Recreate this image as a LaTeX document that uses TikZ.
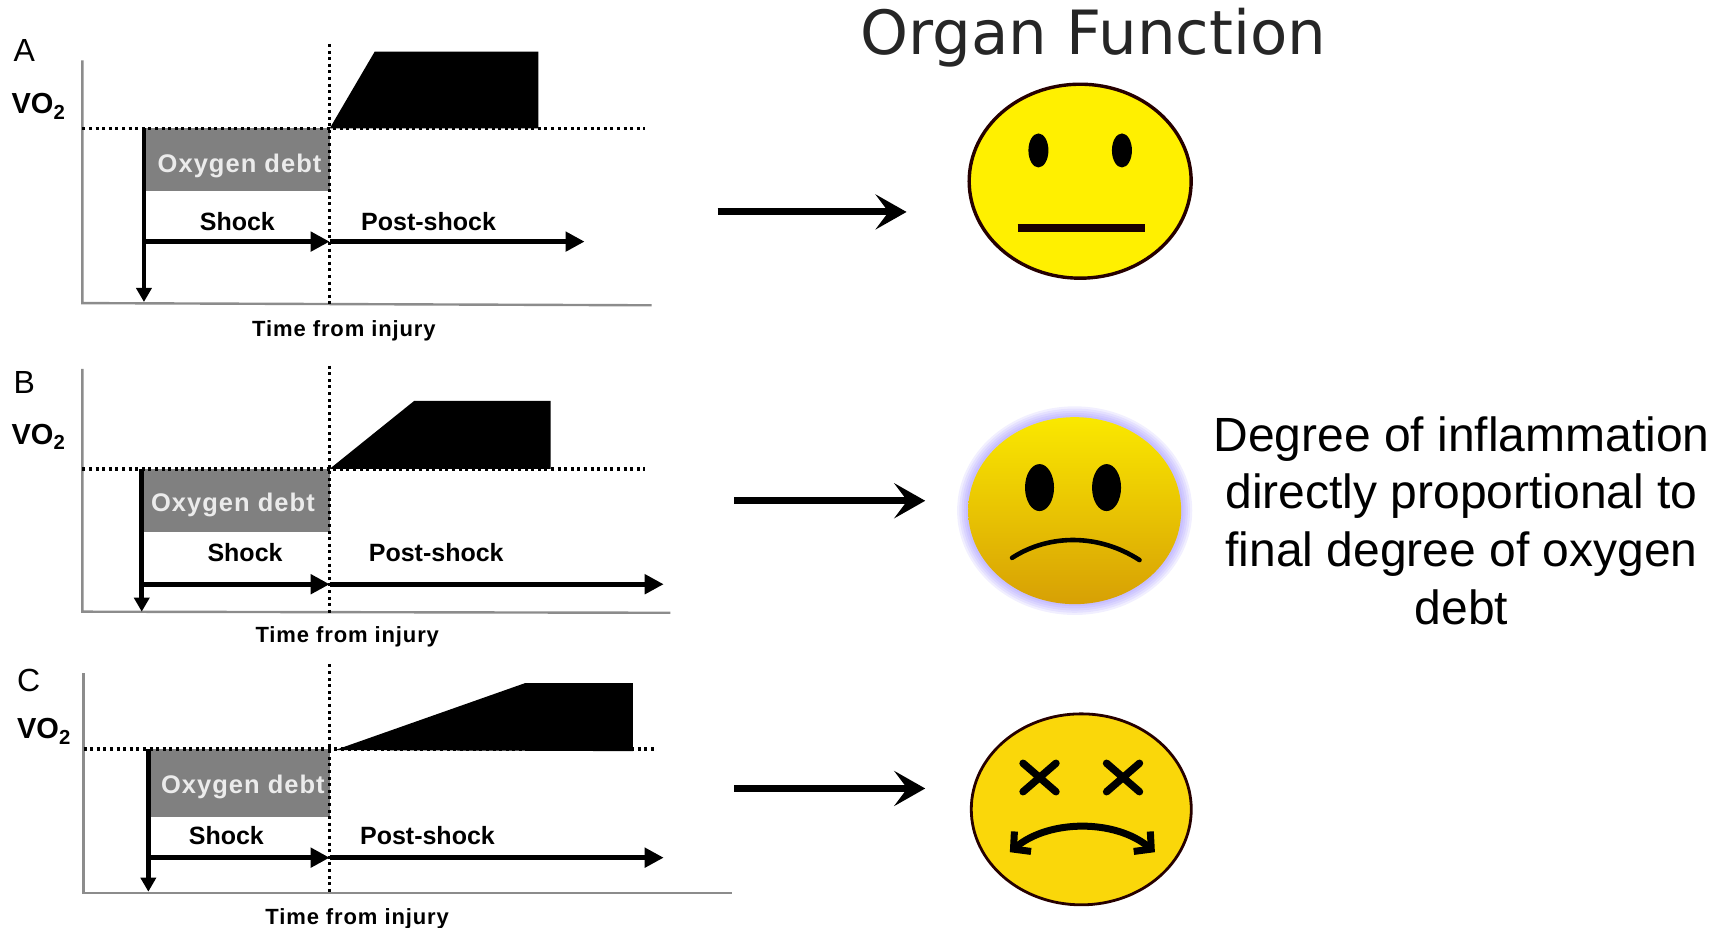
\documentclass[tikz,border=0pt]{standalone}
\usepackage{fontspec}
\setmainfont{Liberation Sans}
\newfontfamily\titlefont{DejaVu Sans}
\newfontfamily\widefont[LetterSpace=4]{Liberation Sans}
\usetikzlibrary{positioning,arrows.meta,calc,shapes.geometric}
\definecolor{DebtGray}{RGB}{128,128,128}
\definecolor{AxisGray}{RGB}{140,140,140}
\definecolor{FaceYellow}{RGB}{255,240,0}
\definecolor{CrossYellow}{RGB}{250,215,10}
\definecolor{GoldTop}{RGB}{250,232,0}
\definecolor{GoldMid}{RGB}{225,178,5}
\definecolor{GoldLow}{RGB}{215,160,5}
\definecolor{GlowBlue}{RGB}{120,100,255}

\begin{document}
\begin{tikzpicture}[x=1.0989pt, y=-1.0982pt,
    panelname/.style={font=\fontsize{32}{36}\selectfont},
    volabel/.style={font=\fontsize{29}{32}\selectfont\bfseries},
    debtlabel/.style={font=\widefont\fontsize{25.5}{28}\selectfont\bfseries, text=white!92!black},
    phaselabel/.style={font=\fontsize{25}{28}\selectfont\bfseries},
    timelabel/.style={font=\widefont\fontsize{22}{24}\selectfont\bfseries},
    axisline/.style={draw=AxisGray, line width=2.4pt},
    dotline/.style={line width=3.6pt, dash pattern=on 3pt off 3.6pt},
    phasearrow/.style={line width=5pt, -{Triangle[length=19pt,width=19pt]}},
    droparrow/.style={line width=4.6pt, -{Triangle[length=14pt,width=15pt]}},
    bigarrow/.style={line width=7pt, -{Stealth[length=31pt,width=35pt,inset=13pt]}},
    faceeye/.style={ellipse, fill=black, inner sep=0pt}]
  \useasboundingbox (0,0) rectangle (1568,845);

  % panel A
  \coordinate (a0) at (75,55);
  \coordinate (a1) at (75,276);
  \coordinate (a2) at (593,278);
  \draw[axisline] (a0) -- (a1) -- (a2);
  \fill[DebtGray] (131,117) rectangle (300,174);
  \fill (300,117) -- (341,47) -- (490,47) -- (490,117) -- cycle;
  \coordinate (abl) at (75,117);
  \coordinate (abr) at (587,117);
  \coordinate (at) at (300,40);
  \coordinate (ab) at (300,279);
  \draw[dotline] (abl) -- (abr);
  \draw[dotline] (at) -- (ab);
  \coordinate (adrop) at (131,117);
  \coordinate (adrope) at (131,275);
  \coordinate (ash) at (131,220);
  \coordinate (amid) at (300,220);
  \coordinate (aend) at (532,220);
  \draw[droparrow] (adrop) -- (adrope);
  \draw[phasearrow] (ash) -- (amid);
  \draw[phasearrow] (amid) -- (aend);
  \node[panelname] (apanel) at (22,46) {A};
  \node[volabel] (avo) at (35,97) {VO\textsubscript{2}};
  \node[debtlabel] (adebt) at (218,151) {Oxygen debt};
  \node[phaselabel] (ashock) at (216,202) {Shock};
  \node[phaselabel] (apost) at (390,202) {Post-shock};
  \node[timelabel] (atime) at (313,301) {Time from injury};

  % panel B
  \coordinate (b0) at (75,336);
  \coordinate (b1) at (75,557);
  \coordinate (b2) at (610,558);
  \draw[axisline] (b0) -- (b1) -- (b2);
  \fill[DebtGray] (129,427) rectangle (300,484);
  \fill (300,427) -- (377,365) -- (501,365) -- (501,427) -- cycle;
  \coordinate (bbl) at (75,427);
  \coordinate (bbr) at (587,427);
  \coordinate (bt) at (300,333);
  \coordinate (bb) at (300,558);
  \draw[dotline] (bbl) -- (bbr);
  \draw[dotline] (bt) -- (bb);
  \coordinate (bdrop) at (129,427);
  \coordinate (bdrope) at (129,557);
  \coordinate (bsh) at (129,532);
  \coordinate (bmid) at (300,532);
  \coordinate (bend) at (604,532);
  \draw[droparrow] (bdrop) -- (bdrope);
  \draw[phasearrow] (bsh) -- (bmid);
  \draw[phasearrow] (bmid) -- (bend);
  \node[panelname] (bpanel) at (22,348) {B};
  \node[volabel] (bvo) at (35,398) {VO\textsubscript{2}};
  \node[debtlabel] (bdebt) at (212,460) {Oxygen debt};
  \node[phaselabel] (bshock) at (223,503) {Shock};
  \node[phaselabel] (bpost) at (397,503) {Post-shock};
  \node[timelabel] (btime) at (316,580) {Time from injury};

  % panel C
  \coordinate (c0) at (76,613);
  \coordinate (c1) at (76,813);
  \coordinate (c2) at (666,813);
  \draw[axisline] (c0) -- (c1) -- (c2);
  \fill[DebtGray] (135,682) rectangle (300,744);
  \fill (305,683) -- (478,622) -- (576,622) -- (576,684) -- cycle;
  \coordinate (cbl) at (76,682);
  \coordinate (cbr) at (595,682);
  \coordinate (ct) at (300,605);
  \coordinate (cb) at (300,815);
  \draw[dotline] (cbl) -- (cbr);
  \draw[dotline] (ct) -- (cb);
  \coordinate (cdrop) at (135,682);
  \coordinate (cdrope) at (135,812);
  \coordinate (csh) at (135,781);
  \coordinate (cmid) at (300,781);
  \coordinate (cend) at (604,781);
  \draw[droparrow] (cdrop) -- (cdrope);
  \draw[phasearrow] (csh) -- (cmid);
  \draw[phasearrow] (cmid) -- (cend);
  \node[panelname] (cpanel) at (26,620) {C};
  \node[volabel] (cvo) at (40,666) {VO\textsubscript{2}};
  \node[debtlabel] (cdebt) at (221,717) {Oxygen debt};
  \node[phaselabel] (cshock) at (206,761) {Shock};
  \node[phaselabel] (cpost) at (389,761) {Post-shock};
  \node[timelabel] (ctime) at (325,837) {Time from injury};

  % faces
  \node[ellipse, draw=black!85!red, line width=3.4pt, fill=FaceYellow, minimum width=222pt,
        minimum height=194pt, inner sep=0pt] (facea) at (983,165) {};
  \node[faceeye, minimum width=20pt, minimum height=34pt] (faeyel) at (945,137) {};
  \node[faceeye, minimum width=20pt, minimum height=34pt] (faeyer) at (1021,137) {};
  \coordinate (fam0) at (926,208);
  \coordinate (fam1) at (1042,208);
  \draw[line width=8pt, black!90!red] (fam0) -- (fam1);

  \foreach \glow in {10,8,...,2}
    \fill[GlowBlue, opacity=0.1] (978,465) ellipse ({97+\glow} and {85+\glow});
  \node[ellipse, top color=GoldTop, middle color=GoldMid, bottom color=GoldLow,
        minimum width=213pt, minimum height=187pt, inner sep=0pt] (faceb) at (978,465) {};
  \node[faceeye, minimum width=29pt, minimum height=47pt] (fbeyel) at (946,444) {};
  \node[faceeye, minimum width=29pt, minimum height=47pt] (fbeyer) at (1007,444) {};
  \coordinate (fbm0) at (921,508);
  \coordinate (fbm1) at (1037,510);
  \draw[line width=4.6pt, line cap=round] (fbm0) .. controls (955,486) and (1000,486) .. (fbm1);

  \node[ellipse, draw=black!85!red, line width=2.8pt, fill=CrossYellow, minimum width=220pt,
        minimum height=191pt, inner sep=0pt] (facec) at (984,737) {};
  \coordinate (fcl) at (946,708);
  \coordinate (fcr) at (1022,708);
  \draw[line width=7.4pt, line cap=round] ($(fcl)+(-15,-13)$) -- ($(fcl)+(15,13)$)
    ($(fcl)+(15,-13)$) -- ($(fcl)+(-15,13)$);
  \draw[line width=7.4pt, line cap=round] ($(fcr)+(-15,-13)$) -- ($(fcr)+(15,13)$)
    ($(fcr)+(15,-13)$) -- ($(fcr)+(-15,13)$);
  \coordinate (fcm0) at (919,776);
  \coordinate (fcm1) at (1051,776);
  \draw[line width=7pt, {Straight Barb[length=12pt,width=26pt]}-{Straight Barb[length=12pt,width=26pt]}]
    (fcm0) .. controls (955,746) and (1015,746) .. (fcm1);

  % big arrows
  \coordinate (ar0) at (653,193);
  \coordinate (ar1) at (825,193);
  \coordinate (br0) at (668,456);
  \coordinate (br1) at (842,456);
  \coordinate (cr0) at (668,718);
  \coordinate (cr1) at (842,718);
  \draw[bigarrow] (ar0) -- (ar1);
  \draw[bigarrow] (br0) -- (br1);
  \draw[bigarrow] (cr0) -- (cr1);

  % right side text
  \node[font=\titlefont\fontsize{61}{64}\selectfont, text=black!85] (title) at (995,34) {Organ Function};
  \node[font=\fontsize{48}{57.7}\selectfont, align=center] (inflam) at (1330,474)
    {Degree of inflammation\\directly proportional to\\final degree of oxygen\\debt};
\end{tikzpicture}
\end{document}
